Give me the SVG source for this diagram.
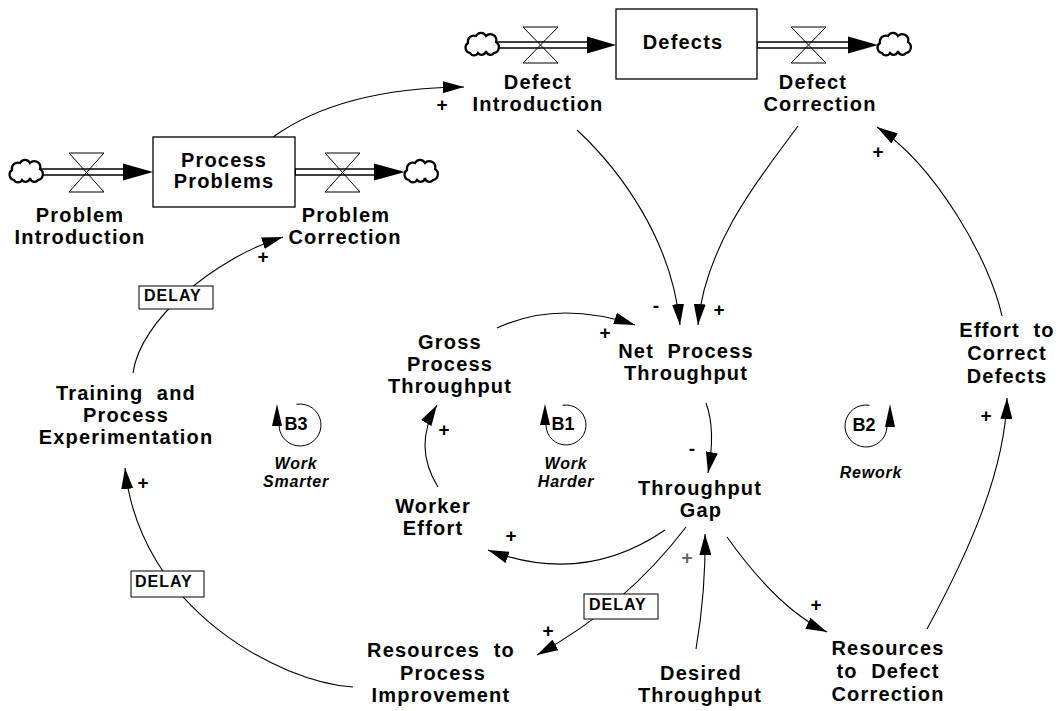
<svg xmlns="http://www.w3.org/2000/svg" width="1058" height="711" viewBox="0 0 1058 711">
<style>
 text { font-family: "Liberation Sans", Arial, sans-serif; font-weight: bold; fill: #000; }
 .lbl { font-size: 20px; letter-spacing: 1.2px; text-anchor: middle; }
 .pol { font-size: 19px; text-anchor: middle; }
 .loop { font-size: 18px; text-anchor: middle; }
 .lname { font-size: 16px; letter-spacing: 0.8px; font-style: italic; text-anchor: middle; }
 .dl { font-size: 16px; letter-spacing: 1px; }
 .stock { fill: #fff; stroke: #000; stroke-width: 1.3; }
 .link { fill: none; stroke: #000; stroke-width: 1.1; marker-end: url(#ah); }
 .pipe-o { stroke: #000; stroke-width: 7.5; fill: none; }
 .pipe-i { stroke: #fff; stroke-width: 4.5; fill: none; }
 .valve { fill: none; stroke: #000; stroke-width: 1; }
 .fhead { fill: #000; }
 .delay { fill: #fff; stroke: #000; stroke-width: 1; }
 .loopc { fill: none; stroke: #000; stroke-width: 1; }
 .lhead { fill: #000; }
</style>
<defs>
 <marker id="ah" markerUnits="userSpaceOnUse" viewBox="0 0 21 12" refX="21" refY="6" markerWidth="21" markerHeight="12" orient="auto">
  <path d="M0,0 L21,6 L0,12 Z" fill="#000"/>
 </marker>
 <path id="cloud" fill="#fff" stroke="#000" stroke-width="2.2" d="M-12,8 A5.5,5.5 0 0 1 -14,-2 A6,6 0 0 1 -6,-9 A5.5,5.5 0 0 1 4,-9 A6,6 0 0 1 14,-3 A6,6 0 0 1 12,8 A4.5,4.5 0 0 1 4,6 A4.5,4.5 0 0 1 -4,8 A4.5,4.5 0 0 1 -12,8 Z"/>
</defs>
<rect width="1058" height="711" fill="#fff"/>

<g id="connectors">
 <path class="link" d="M273,137 Q341.5,88 464,87"/>
 <path class="link" d="M133,373 C140,320 215,258 283,237"/>
 <path class="link" d="M353,687 C280,682 140,610 125,468"/>
 <path class="link" d="M497,328 Q558,299.5 635,325"/>
 <path class="link" d="M577,130 C620,170 672,240 680,325"/>
 <path class="link" d="M798,126 C770,165 705,240 698,325"/>
 <path class="link" d="M706,403 Q716,430 708,473"/>
 <path class="link" d="M438,487 Q412.5,446 437,405"/>
 <path class="link" d="M665,530 Q583.5,586 488,550"/>
 <path class="link" d="M686,527 Q626,606 537,655"/>
 <path class="link" d="M696,649 Q706,590 705,534"/>
 <path class="link" d="M727,537 Q779,610 827,632"/>
 <path class="link" d="M927,629 C970,550 1005,470 1007,398"/>
 <path class="link" d="M1002,316 C990,260 935,165 877,127"/>
 <text class="pol" x="442" y="111">+</text>
 <text class="pol" x="263" y="263">+</text>
 <text class="pol" x="143" y="489">+</text>
 <text class="pol" x="605" y="339">+</text>
 <text class="pol" x="656" y="312">-</text>
 <text class="pol" x="719" y="316">+</text>
 <text class="pol" x="692" y="455">-</text>
 <text class="pol" x="444" y="436">+</text>
 <text class="pol" x="511" y="542">+</text>
 <text class="pol" x="548" y="637">+</text>
 <text class="pol" x="687" y="564" style="fill:#666">+</text>
 <text class="pol" x="816" y="611">+</text>
 <text class="pol" x="986" y="422">+</text>
 <text class="pol" x="878" y="158">+</text>
</g>

<g id="delay-training-to-correction">
 <rect class="delay" x="139" y="286" width="74" height="23"/>
 <text class="dl" x="144" y="301">DELAY</text>
</g>
<g id="delay-resources-to-training">
 <rect class="delay" x="131" y="571" width="73" height="26"/>
 <text class="dl" x="135" y="587">DELAY</text>
</g>
<g id="delay-gap-to-resources">
 <rect class="delay" x="584" y="594" width="74" height="25"/>
 <text class="dl" x="589" y="610">DELAY</text>
</g>

<g id="process-problems">
 <rect class="stock" x="153" y="137" width="142" height="70"/>
 <text class="lbl"><tspan x="224" y="167">Process</tspan><tspan x="224" y="188">Problems</tspan></text>
</g>
<g id="defects">
 <rect class="stock" x="616" y="9" width="141" height="70"/>
 <text class="lbl" x="683" y="49">Defects</text>
</g>

<g id="problem-introduction">
 <line class="pipe-o" x1="40" y1="172" x2="128" y2="172"/>
 <line class="pipe-i" x1="40" y1="172" x2="128" y2="172"/>
 <path class="valve" d="M69,153 H104 L69,192 H104 Z"/>
 <polygon class="fhead" points="123,163.5 153,172 123,180.5"/>
 <use href="#cloud" x="26" y="172"/>
 <text class="lbl"><tspan x="80" y="222">Problem</tspan><tspan x="80" y="244">Introduction</tspan></text>
</g>
<g id="problem-correction">
 <line class="pipe-o" x1="295" y1="172" x2="378" y2="172"/>
 <line class="pipe-i" x1="296" y1="172" x2="378" y2="172"/>
 <path class="valve" d="M325,153 H360 L325,192 H360 Z"/>
 <polygon class="fhead" points="374,163.5 405,172 374,180.5"/>
 <use href="#cloud" x="421" y="172"/>
 <text class="lbl"><tspan x="346" y="222">Problem</tspan><tspan x="345" y="244">Correction</tspan></text>
</g>
<g id="defect-introduction">
 <line class="pipe-o" x1="495" y1="45" x2="592" y2="45"/>
 <line class="pipe-i" x1="495" y1="45" x2="592" y2="45"/>
 <path class="valve" d="M523,27 H558 L523,63 H558 Z"/>
 <polygon class="fhead" points="587,36.5 616,45 587,53.5"/>
 <use href="#cloud" x="482" y="45"/>
 <text class="lbl"><tspan x="538" y="89">Defect</tspan><tspan x="538" y="111">Introduction</tspan></text>
</g>
<g id="defect-correction">
 <line class="pipe-o" x1="757" y1="45" x2="853" y2="45"/>
 <line class="pipe-i" x1="758" y1="45" x2="853" y2="45"/>
 <path class="valve" d="M791,27 H826 L791,63 H826 Z"/>
 <polygon class="fhead" points="848,36.5 878,45 848,53.5"/>
 <use href="#cloud" x="894" y="45"/>
 <text class="lbl"><tspan x="813" y="89">Defect</tspan><tspan x="820" y="111">Correction</tspan></text>
</g>

<g id="training-and-process-experimentation">
 <text class="lbl" xml:space="preserve"><tspan x="126" y="400">Training  and</tspan><tspan x="126" y="422">Process</tspan><tspan x="126" y="444">Experimentation</tspan></text>
</g>
<g id="gross-process-throughput">
 <text class="lbl"><tspan x="450" y="349">Gross</tspan><tspan x="450" y="371">Process</tspan><tspan x="450" y="393">Throughput</tspan></text>
</g>
<g id="net-process-throughput">
 <text class="lbl" xml:space="preserve"><tspan x="686" y="358">Net  Process</tspan><tspan x="686" y="380">Throughput</tspan></text>
</g>
<g id="worker-effort">
 <text class="lbl"><tspan x="433" y="513">Worker</tspan><tspan x="433" y="535">Effort</tspan></text>
</g>
<g id="throughput-gap">
 <text class="lbl"><tspan x="700" y="495">Throughput</tspan><tspan x="701" y="517">Gap</tspan></text>
</g>
<g id="resources-to-process-improvement">
 <text class="lbl" xml:space="preserve"><tspan x="441" y="657">Resources  to</tspan><tspan x="443" y="680">Process</tspan><tspan x="441" y="702">Improvement</tspan></text>
</g>
<g id="desired-throughput">
 <text class="lbl"><tspan x="701" y="680">Desired</tspan><tspan x="700" y="702">Throughput</tspan></text>
</g>
<g id="resources-to-defect-correction">
 <text class="lbl" xml:space="preserve"><tspan x="888" y="655">Resources</tspan><tspan x="888" y="678">to  Defect</tspan><tspan x="888" y="701">Correction</tspan></text>
</g>
<g id="effort-to-correct-defects">
 <text class="lbl" xml:space="preserve"><tspan x="1007" y="337">Effort  to</tspan><tspan x="1007" y="360">Correct</tspan><tspan x="1007" y="383">Defects</tspan></text>
</g>

<g id="loop-b1">
 <path class="loopc" d="M562.5,405.3 A20,20 0 1 1 546,425"/>
 <polygon class="lhead" points="545,404 540,425 550,425"/>
 <text class="loop" x="563" y="430">B1</text>
 <text class="lname"><tspan x="566" y="469">Work</tspan><tspan x="566" y="487">Harder</tspan></text>
</g>
<g id="loop-b3">
 <path class="loopc" d="M296.4,404.3 A21,21 0 1 1 279,425"/>
 <polygon class="lhead" points="277,404 272,426 282,426"/>
 <text class="loop" x="296" y="430">B3</text>
 <text class="lname"><tspan x="296" y="469">Work</tspan><tspan x="296" y="487">Smarter</tspan></text>
</g>
<g id="loop-b2">
 <path class="loopc" d="M869.6,405.3 A21,21 0 1 0 887,426"/>
 <polygon class="lhead" points="890,404 885,427 895,427"/>
 <text class="loop" x="864" y="431">B2</text>
 <text class="lname" x="871" y="478">Rework</text>
</g>
</svg>
